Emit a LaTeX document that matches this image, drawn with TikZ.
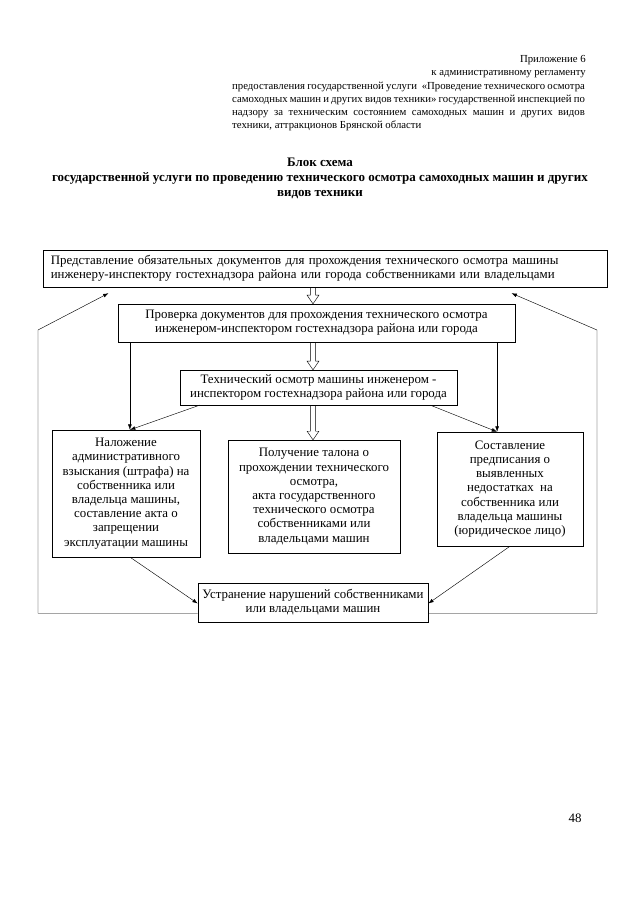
\documentclass[tikz,border=0pt]{standalone}
\usepackage{fontspec}
\setmainfont{Liberation Serif}
\usetikzlibrary{arrows.meta,positioning,calc}

\begin{document}
\begin{tikzpicture}[x=0.93pt,y=-0.93pt,
    box/.style={draw,thin,align=center,inner sep=2pt,font=\fontsize{12}{13.2}\selectfont},
    arr/.style={-{Latex[length=5pt,width=3.5pt]},thin},
    hollow/.style={thin,to path={let \p1=(\tikztostart),\p2=(\tikztotarget) in
      (\x1-2.5pt,\y1) -- (\x1-2.5pt,\y2+8pt) -- (\x1-5.5pt,\y2+8pt) -- (\x1,\y2)
      -- (\x1+5.5pt,\y2+8pt) -- (\x1+2.5pt,\y2+8pt) -- (\x1+2.5pt,\y1)}}
  ]
  \useasboundingbox (0,0) rectangle (640,905);
  % header
  \node[anchor=north east,align=right,inner sep=0,font=\fontsize{10}{12.3}\selectfont] (app) at (586,55)
    {Приложение 6\\к административному регламенту};
  \node[anchor=north west,text width=328pt,align=justify,inner sep=0,font=\fontsize{10}{12.3}\selectfont] (reg) at (232,81.5)
    {предоставления государственной услуги~ «Проведение технического осмотра\linebreak
     самоходных машин и других видов техники» государственной инспекцией по\linebreak
     надзору за техническим состоянием самоходных машин и других видов\linebreak
     техники, аттракционов Брянской области};
  \node[align=center,inner sep=0,font=\bfseries\fontsize{12.1}{14.2}\selectfont] (title) at (320,178.5)
    {Блок схема\\государственной услуги по проведению технического осмотра самоходных машин и других\\видов техники};
  % boxes
  \node[box,align=left,text width=510pt,inner xsep=7.5pt,minimum height=34.4pt] (b1) at (325,268.5)
    {Представление обязательных документов для прохождения технического осмотра машины\\инженеру-инспектору гостехнадзора района или города собственниками или владельцами};
  \node[box,minimum width=369pt,minimum height=35.3pt] (b2) at (316.5,323)
    {Проверка документов для прохождения технического осмотра\\инженером-инспектором гостехнадзора района или города};
  \node[box,minimum width=258pt,minimum height=32.5pt] (b3) at (318.5,387.5)
    {Технический осмотр машины инженером -\\инспектором гостехнадзора района или города};
  \node[box,minimum width=137.6pt,minimum height=118pt] (bl) at (126,493.5)
    {Наложение\\административного\\взыскания (штрафа) на\\собственника или\\владельца машины,\\составление акта о\\запрещении\\эксплуатации машины};
  \node[box,minimum width=160pt,minimum height=105pt] (bc) at (314,496.5)
    {Получение талона о\\прохождении технического\\осмотра,\\акта государственного\\технического осмотра\\собственниками или\\владельцами машин};
  \node[box,minimum width=135.8pt,minimum height=106pt] (br) at (510,489)
    {Составление\\предписания о\\выявленных\\недостатках~ на\\собственника или\\владельца машины\\(юридическое лицо)};
  \node[box,minimum width=214pt,minimum height=36.3pt] (bb) at (313,602.5)
    {Устранение нарушений собственниками\\или владельцами машин};
  \node[inner sep=0,font=\fontsize{12}{14}\selectfont] (pg) at (575,818) {48};
  % connectors
  \coordinate (ax) at (313,0);
  \draw[hollow] (b1.south -| ax) to (b2.north -| ax);
  \draw[hollow] (b2.south -| ax) to (b3.north -| ax);
  \draw[hollow] (b3.south -| ax) to (bc.north -| ax);
  \coordinate (lx) at ($(b2.south west)+(12,0)$);
  \coordinate (rx) at ($(b2.south east)+(-18,0)$);
  \draw[arr] (lx) -- (lx |- bl.north);
  \draw[arr] (rx) -- (rx |- br.north);
  \draw[arr] ($(b3.south west)+(20,0)$) -- (lx |- bl.north);
  \draw[arr] ($(b3.south east)+(-27,0)$) -- (rx |- br.north);
  \draw[arr] ($(bl.south)+(4,0)$) -- ($(bb.west)+(0,1)$);
  \draw[arr] (br.south) -- ($(bb.east)+(0,1)$);
  \coordinate (lb) at (38,330);
  \coordinate (rb) at (597,330);
  \draw[arr] ($(bb.south west)+(0,-9)$) -| (lb) -- ($(b1.south west)+(66,6)$);
  \draw[arr] ($(bb.south east)+(0,-9)$) -| (rb) -- ($(b1.south east)+(-96,6)$);
\end{tikzpicture}
\end{document}
